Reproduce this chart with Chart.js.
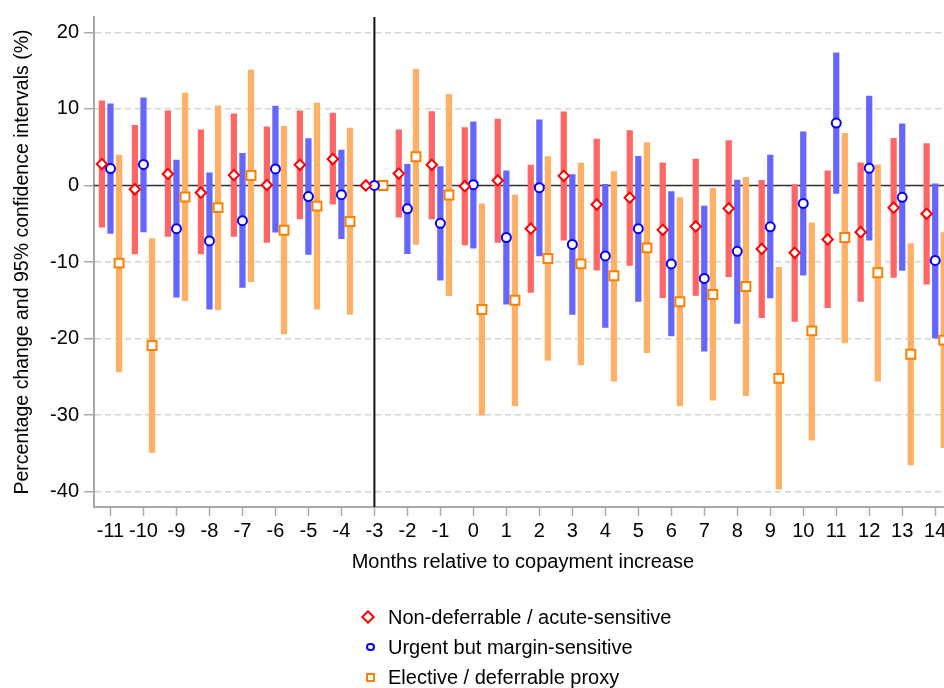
<!DOCTYPE html>
<html>
<head>
<meta charset="utf-8">
<script src="https://cdn.jsdelivr.net/npm/chart.js@4"></script>
<style>
  html, body { margin: 0; padding: 0; overflow: hidden; background: #fff; }
  #wrap { position: relative; width: 960px; height: 688px; }
  #myChart { display: block; }
  #legend { position: absolute; left: 0; top: 602px; width: 960px;
            font: 20px "Liberation Sans", Arial, sans-serif; color: #000; }
  .row { position: relative; height: 30px; line-height: 30px; }
  .row .txt { position: absolute; left: 388px; top: 0; white-space: nowrap; }
  .mk { position: absolute; box-sizing: border-box; background: #fff; border-style: solid; border-width: 2px; }
</style>
</head>
<body>
<div id="wrap">
  <canvas id="myChart" width="960" height="688"></canvas>
  <div id="legend"></div>
</div>
<script>
// event-study estimates by month, three service groups
var months = [-11, -10, -9, -8, -7, -6, -5, -4, -3, -2, -1, 0, 1, 2, 3, 4, 5, 6, 7, 8, 9, 10, 11, 12, 13, 14];
var refMonth = -3;
var yTicks = [-40, -30, -20, -10, 0, 10, 20];

var seriesNames = ['Non-deferrable / acute-sensitive', 'Urgent but margin-sensitive', 'Elective / deferrable proxy'];

var acuteEst = [2.8, -0.5, 1.5, -0.95, 1.35, 0.05, 2.7, 3.45, 0, 1.55, 2.7, -0.1, 0.65, -5.65, 1.25, -2.5, -1.6, -5.8, -5.35, -3.0, -8.3, -8.8, -7.05, -6.1, -2.9, -3.7];
var acuteLo = [-5.5, -9.0, -6.7, -9.0, -6.7, -7.5, -4.4, -2.5, null, -4.2, -4.4, -7.8, -7.5, -14.0, -7.2, -11.1, -10.5, -14.7, -14.4, -11.95, -17.3, -17.8, -16.0, -15.2, -12.05, -12.95];
var acuteHi = [11.1, 7.9, 9.8, 7.3, 9.4, 7.7, 9.8, 9.5, null, 7.3, 9.7, 7.6, 8.7, 2.7, 9.65, 6.1, 7.2, 3.0, 3.5, 5.9, 0.7, 0.15, 1.95, 3.0, 6.2, 5.5];

var urgentEst = [2.2, 2.75, -5.65, -7.25, -4.6, 2.15, -1.45, -1.2, 0, -3.05, -4.95, 0.1, -6.8, -0.3, -7.7, -9.2, -5.65, -10.25, -12.15, -8.6, -5.4, -2.35, 8.15, 2.25, -1.55, -9.8];
var urgentLo = [-6.3, -6.1, -14.65, -16.2, -13.35, -6.15, -9.05, -7.0, null, -8.95, -12.4, -8.25, -15.55, -9.25, -16.9, -18.6, -15.2, -19.7, -21.7, -18.05, -14.75, -11.75, -1.1, -7.2, -11.15, -20.0];
var urgentHi = [10.7, 11.5, 3.35, 1.7, 4.25, 10.4, 6.15, 4.65, null, 2.8, 2.5, 8.35, 1.95, 8.6, 1.45, 0.2, 3.85, -0.75, -2.65, 0.75, 4.0, 7.05, 17.35, 11.7, 8.1, 0.25];

var electiveEst = [-10.15, -20.9, -1.5, -2.9, 1.3, -5.85, -2.7, -4.7, 0, 3.75, -1.25, -16.2, -15.0, -9.55, -10.25, -11.8, -8.15, -15.2, -14.25, -13.2, -25.2, -19.0, -6.8, -11.4, -22.05, -20.2];
var electiveLo = [-24.4, -34.9, -15.1, -16.3, -12.6, -19.45, -16.2, -16.9, null, -7.75, -14.45, -30.05, -28.85, -22.9, -23.5, -25.6, -21.9, -28.85, -28.1, -27.5, -39.7, -33.3, -20.6, -25.6, -36.55, -34.3];
var electiveHi = [4.0, -6.9, 12.1, 10.45, 15.1, 7.75, 10.8, 7.55, null, 15.2, 11.95, -2.35, -1.2, 3.8, 2.95, 1.85, 5.65, -1.55, -0.35, 1.1, -10.65, -4.85, 6.85, 2.75, -7.55, -6.1];

var barFill = ['#ff6666', '#6666ff', '#ffb066'];
var markColor = ['#ff0000', '#0000ff', '#ff8000'];
var markStyle = ['rectRot', 'circle', 'rect'];
var markRadius = [5.2, 4.5, 6.3];

// grouped bar geometry; markers sit on the centre of their own bar
var catPct = 0.78, barPct = 0.73;
var shift = catPct / 3;

function ciBars(lo, hi) {
    return months.map(function (m, i) {
        return { x: m, y: lo[i] === null ? null : [lo[i], hi[i]] };
    });
}

function estPoints(est, k) {
    return months.map(function (m, i) {
        return { x: m + (k - 1) * shift, y: est[i] };
    });
}

var groups = [
    [acuteEst, acuteLo, acuteHi],
    [urgentEst, urgentLo, urgentHi],
    [electiveEst, electiveLo, electiveHi]
];

var datasets = [];
groups.forEach(function (g, k) {
    datasets.push({
        type: 'scatter',
        label: seriesNames[k],
        data: estPoints(g[0], k),
        pointStyle: markStyle[k],
        pointRadius: markRadius[k],
        pointBorderWidth: 2,
        pointBorderColor: markColor[k],
        pointBackgroundColor: '#ffffff',
        order: 0
    });
});
groups.forEach(function (g, k) {
    datasets.push({
        type: 'bar',
        label: seriesNames[k] + ' CI',
        data: ciBars(g[1], g[2]),
        backgroundColor: barFill[k],
        borderWidth: 0,
        categoryPercentage: catPct,
        barPercentage: barPct,
        order: 1
    });
});

// zero line and the reference month
var refLines = {
    id: 'refLines',
    beforeDatasetsDraw: function (chart) {
        var ctx = chart.ctx, a = chart.chartArea;
        var y0 = chart.scales.y.getPixelForValue(0);
        var xr = chart.scales.x.getPixelForValue(refMonth);
        ctx.save();
        ctx.strokeStyle = '#333333';
        ctx.lineWidth = 1.5;
        ctx.beginPath();
        ctx.moveTo(a.left, y0);
        ctx.lineTo(a.right, y0);
        ctx.stroke();
        ctx.strokeStyle = '#111111';
        ctx.lineWidth = 2;
        ctx.beginPath();
        ctx.moveTo(xr, a.top);
        ctx.lineTo(xr, a.bottom);
        ctx.stroke();
        ctx.restore();
    }
};

Chart.defaults.font.family = '"Liberation Sans", Arial, Helvetica, sans-serif';
Chart.defaults.font.size = 20;
Chart.defaults.color = '#000';

var ctx = document.getElementById('myChart').getContext('2d');
var myChart = new Chart(ctx, {
    type: 'bar',
    data: { datasets: datasets },
    plugins: [refLines],
    options: {
        responsive: false,
        animation: false,
        events: [],
        layout: { padding: { top: 10, right: 8, bottom: 111, left: 0 } },
        plugins: {
            legend: { display: false },
            tooltip: { enabled: false }
        },
        scales: {
            x: {
                type: 'linear',
                offset: false,
                min: -11.5,
                max: 14.5,
                afterBuildTicks: function (s) {
                    s.ticks = months.map(function (v) { return { value: v }; });
                },
                afterFit: function (s) { s.height = 70; },
                grid: { offset: false, drawOnChartArea: false, tickLength: 9, tickColor: '#aaaaaa', tickWidth: 1.5 },
                border: { color: '#a8a8a8', width: 2 },
                ticks: { padding: 3, maxRotation: 0, autoSkip: false },
                title: {
                    display: true,
                    text: 'Months relative to copayment increase',
                    padding: { top: 0, bottom: 3 }
                }
            },
            y: {
                min: -42,
                max: 22,
                afterBuildTicks: function (s) {
                    s.ticks = yTicks.map(function (v) { return { value: v }; });
                },
                afterFit: function (s) { s.width = 94; },
                grid: { color: '#d4d4d4', lineWidth: 1.5, tickColor: '#aaaaaa', tickLength: 10, tickWidth: 1.5 },
                border: { color: '#a8a8a8', width: 2, dash: [6, 4] },
                ticks: { padding: 5 },
                title: {
                    display: true,
                    text: 'Percentage change and 95% confidence intervals (%)',
                    font: { size: 19.5 },
                    padding: { top: 10.5, bottom: 0 }
                }
            }
        }
    }
});

// legend: one entry per line, below the axis title
var legendEl = document.getElementById('legend');
var mkCss = [
    'width:10px;height:10px;left:363px;top:10px;transform:rotate(45deg);',
    'width:8.5px;height:8.5px;left:366px;top:10.8px;border-radius:50%;',
    'width:9px;height:9px;left:366px;top:10.5px;'
];
seriesNames.forEach(function (name, k) {
    var row = document.createElement('div');
    row.className = 'row';
    var mk = document.createElement('span');
    mk.className = 'mk';
    mk.style.cssText = mkCss[k] + 'border-color:' + markColor[k] + ';';
    var txt = document.createElement('span');
    txt.className = 'txt';
    txt.textContent = name;
    row.appendChild(mk);
    row.appendChild(txt);
    legendEl.appendChild(row);
});
</script>
</body>
</html>
